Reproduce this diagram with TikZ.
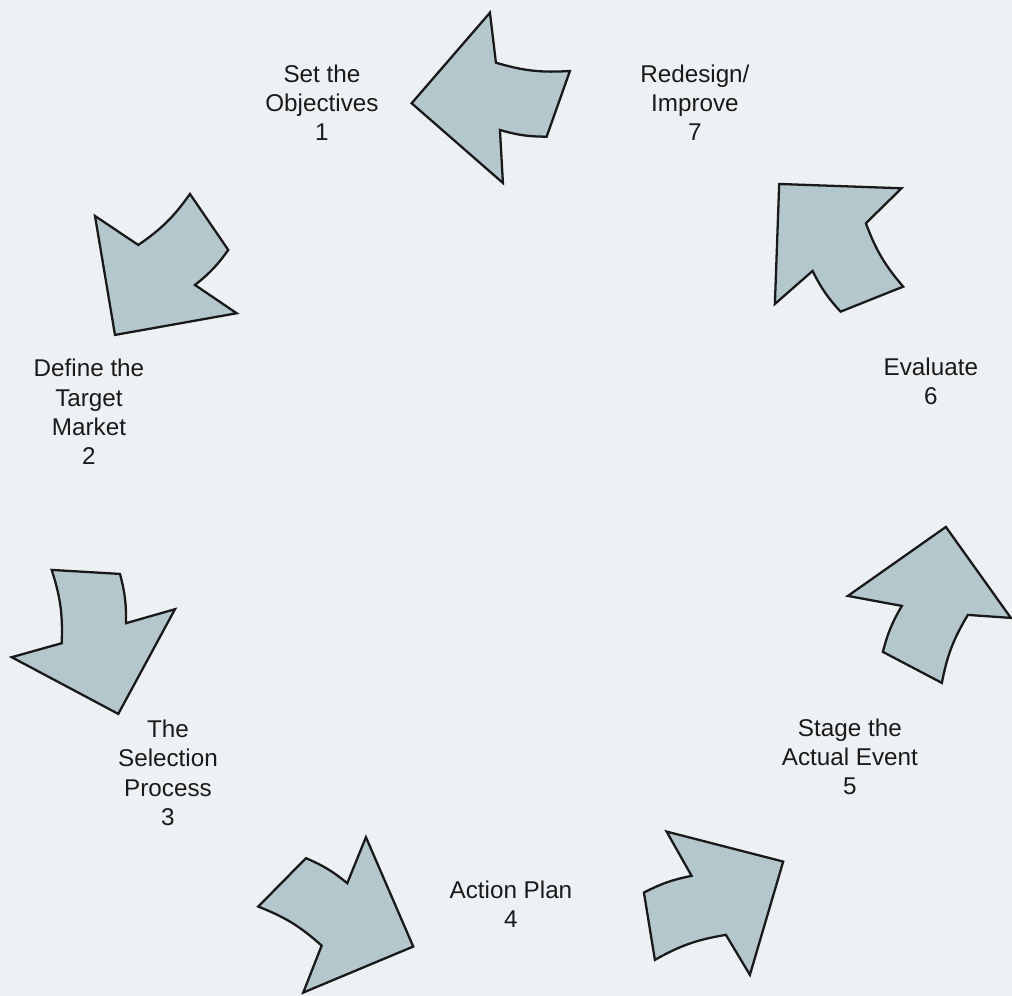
\documentclass[tikz,border=0pt]{standalone}
\usepackage{fontspec}
\setmainfont{Liberation Sans}
\definecolor{arrowfill}{HTML}{B4C7CD}
\definecolor{pagebg}{HTML}{EEF1F3}
\definecolor{labeltext}{HTML}{1A1A1A}
\tikzset{cyclearrow/.style={
            draw=black!90,
            fill=arrowfill,
            line width=1.3pt,
            line join=miter
        },
        steplabel/.style={
            align=center,
            inner sep=0pt,
            text=labeltext,
            font=\fontsize{13.8}{16.6}\selectfont
        }
    }

\begin{document}
\begin{tikzpicture}[x=0.02cm,y=-0.02cm]
        \fill[pagebg] (0,0) rectangle (1012,996);

        % the seven arrows, going round from the top (y is flipped, so the bends are swapped)
        \draw[cyclearrow] (411.7,103.3) -- (490,12.7) -- (496,62.7) to[bend right=10] (570,71) -- (546.7,136.7) to[bend left=8] (500,130) -- (503,183) -- cycle;
        \draw[cyclearrow] (115,335) -- (95,216) -- (138.3,245) to[bend right=10] (190,194) -- (228.3,250) to[bend left=8] (195,285) -- (236.7,313.3) -- cycle;
        \draw[cyclearrow] (118.3,714) -- (11.7,657.3) -- (61.7,643.3) to[bend right=10] (51.7,570) -- (120,574) to[bend left=8] (126,623.3) -- (175,609.3) -- cycle;
        \draw[cyclearrow] (413.3,946.7) -- (303.3,992.7) -- (321.7,945.7) to[bend right=10] (258.3,906.7) -- (306,858.3) to[bend left=8] (347.3,883.3) -- (366,837.3) -- cycle;
        \draw[cyclearrow] (783.3,861.7) -- (750,975) -- (726,935) to[bend right=10] (655,960) -- (644,892.7) to[bend left=8] (691.7,876) -- (666.7,831.7) -- cycle;
        \draw[cyclearrow] (946,527) -- (1011,618) -- (968,615) to[bend right=10] (942,683) -- (883,652) to[bend left=8] (902,606) -- (848,596) -- cycle;
        \draw[cyclearrow] (779.3,184) -- (901.7,188.3) -- (866,223.3) to[bend right=10] (903.3,286.7) -- (840.7,311.7) to[bend left=8] (812.7,271) -- (775,304) -- cycle;

        % step labels
        \node[steplabel] (objectives) at (322,103) {Set the\\Objectives\\1};
        \node[steplabel] (market) at (89,412) {Define the\\Target\\Market\\2};
        \node[steplabel] (selection) at (168,773) {The\\Selection\\Process\\3};
        \node[steplabel] (actionplan) at (511,904) {Action Plan\\4};
        \node[steplabel] (stage) at (850,757) {Stage the\\Actual Event\\5};
        \node[steplabel] (evaluate) at (931,381) {Evaluate\\6};
        \node[steplabel] (redesign) at (695,103) {Redesign/\\Improve\\7};

    \end{tikzpicture}
\end{document}
